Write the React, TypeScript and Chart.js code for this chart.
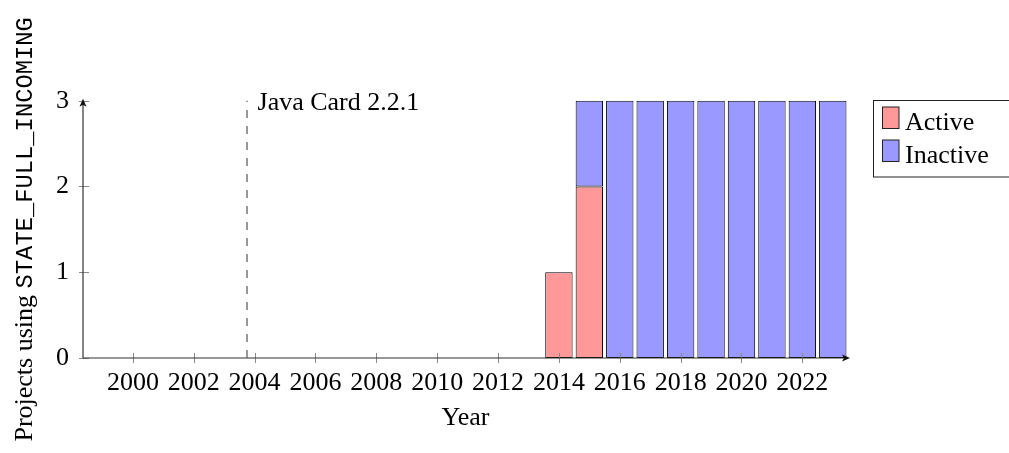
import React, { useEffect, useRef } from 'react';
import { Chart, registerables } from 'chart.js';

Chart.register(...registerables);

// ---- data ----
const years = [2014, 2015, 2016, 2017, 2018, 2019, 2020, 2021, 2022, 2023];
const activeCounts = [1, 2, 0, 0, 0, 0, 0, 0, 0, 0];
const inactiveCounts = [0, 1, 3, 3, 3, 3, 3, 3, 3, 3];
const seriesLabels = ['Active', 'Inactive'];
const xTickYears = [2000, 2002, 2004, 2006, 2008, 2010, 2012, 2014, 2016, 2018, 2020, 2022];
const yTickValues = [0, 1, 2, 3];
const xRange = [1998.36, 2023.5];
const yRange = [0, 3];
const markerYear = 2003.75;
const markerLabel = 'Java Card 2.2.1';
const xTitle = 'Year';
const yTitlePlain = 'Projects using ';
const yTitleMono = 'STATE_FULL_INCOMING';

// ---- styles ----
const SERIF = '"Liberation Serif", "Times New Roman", serif';
const MONO = '"Liberation Mono", "DejaVu Sans Mono", monospace';
const FONT_SIZE = 26;
const COLORS = ['#ff9999', '#9999ff'];

const overlayPlugin = {
  id: 'pgfOverlay',
  afterDatasetsDraw(chart: any) {
    const { ctx, chartArea, scales } = chart;
    const xs = scales.x;
    const ys = scales.y;
    const left = chartArea.left;
    const right = chartArea.right;
    const top = chartArea.top;
    const bottom = chartArea.bottom;
    ctx.save();

    // tick marks (crossing axes)
    ctx.strokeStyle = '#8a8a8a';
    ctx.lineWidth = 1;
    ctx.beginPath();
    xs.ticks.forEach((t: any) => {
      const px = Math.round(xs.getPixelForValue(t.value)) + 0.5;
      ctx.moveTo(px, bottom - 5);
      ctx.lineTo(px, bottom + 5);
    });
    ys.ticks.forEach((t: any) => {
      const py = Math.round(ys.getPixelForValue(t.value)) + 0.5;
      ctx.moveTo(left - 4, py);
      ctx.lineTo(left + 6, py);
    });
    ctx.stroke();

    // axis lines
    ctx.strokeStyle = '#333';
    ctx.lineWidth = 1.2;
    ctx.beginPath();
    ctx.moveTo(left, bottom);
    ctx.lineTo(right, bottom);
    ctx.moveTo(left, bottom);
    ctx.lineTo(left, top);
    ctx.stroke();
    // arrow heads
    ctx.fillStyle = '#111';
    ctx.beginPath();
    ctx.moveTo(right + 2, bottom);
    ctx.lineTo(right - 6, bottom - 3.5);
    ctx.lineTo(right - 4, bottom);
    ctx.lineTo(right - 6, bottom + 3.5);
    ctx.closePath();
    ctx.fill();
    ctx.beginPath();
    ctx.moveTo(left, top - 2);
    ctx.lineTo(left - 3.5, top + 6);
    ctx.lineTo(left, top + 4);
    ctx.lineTo(left + 3.5, top + 6);
    ctx.closePath();
    ctx.fill();

    // marker dashed line
    const mx = xs.getPixelForValue(markerYear);
    ctx.strokeStyle = '#555';
    ctx.lineWidth = 1.2;
    ctx.setLineDash([8, 8]);
    ctx.beginPath();
    ctx.moveTo(mx, ys.getPixelForValue(yRange[0]));
    ctx.lineTo(mx, ys.getPixelForValue(yRange[1]));
    ctx.stroke();
    ctx.setLineDash([]);
    ctx.fillStyle = '#000';
    ctx.font = `${FONT_SIZE}px ${SERIF}`;
    ctx.textAlign = 'left';
    ctx.textBaseline = 'alphabetic';
    ctx.fillText(markerLabel, mx + 10.5, ys.getPixelForValue(yRange[1]) + 9.5);

    // legend
    ctx.strokeStyle = '#222';
    ctx.lineWidth = 1;
    ctx.strokeRect(873.5, 100.5, 200, 76.5);
    chart.data.datasets.forEach((ds: any, i: number) => {
      const sy = 107 + i * 33;
      ctx.fillStyle = ds.backgroundColor;
      ctx.fillRect(882.5, sy, 16.5, 21.5);
      ctx.strokeStyle = '#222';
      ctx.strokeRect(882.5, sy, 16.5, 21.5);
      ctx.fillStyle = '#000';
      ctx.font = `${FONT_SIZE}px ${SERIF}`;
      ctx.fillText(ds.label, 905, sy + 23);
    });

    // y title with mixed fonts
    ctx.save();
    const cy = (top + bottom) / 2;
    ctx.translate(32, cy);
    ctx.rotate(-Math.PI / 2);
    const serifFont = `${FONT_SIZE}px ${SERIF}`;
    const monoFont = `23.8px ${MONO}`;
    ctx.font = serifFont;
    const w1 = ctx.measureText(yTitlePlain).width;
    ctx.font = monoFont;
    const w2 = ctx.measureText(yTitleMono).width;
    const start = -(w1 + w2) / 2;
    ctx.fillStyle = '#000';
    ctx.textAlign = 'left';
    ctx.textBaseline = 'alphabetic';
    ctx.font = serifFont;
    ctx.fillText(yTitlePlain, start, 0);
    ctx.font = monoFont;
    ctx.fillText(yTitleMono, start + w1, 0);
    ctx.restore();

    ctx.restore();
  },
};

export default function App() {
  const canvasRef = useRef<HTMLCanvasElement | null>(null);

  useEffect(() => {
    const canvas = canvasRef.current;
    if (!canvas) return;
    const font = { family: SERIF, size: FONT_SIZE, lineHeight: 1.2 };
    const chart = new Chart(canvas, {
      type: 'bar',
      data: {
        datasets: [
          {
            label: seriesLabels[0],
            data: years.map((x, i) => ({ x, y: activeCounts[i] })),
            backgroundColor: COLORS[0],
            borderColor: '#000',
            borderWidth: 1,
            borderSkipped: false,
            categoryPercentage: 1,
            barPercentage: 0.9,
          },
          {
            label: seriesLabels[1],
            data: years.map((x, i) => ({ x, y: inactiveCounts[i] })),
            backgroundColor: COLORS[1],
            borderColor: '#000',
            borderWidth: 1,
            borderSkipped: false,
            categoryPercentage: 1,
            barPercentage: 0.9,
          },
        ] as any,
      },
      options: {
        responsive: false,
        animation: false,
        layout: { padding: { top: 100.7, right: 161, left: 0, bottom: 0 } },
        plugins: { legend: { display: false }, tooltip: { enabled: false } },
        scales: {
          x: {
            type: 'linear',
            stacked: true,
            offset: false,
            min: xRange[0],
            max: xRange[1],
            afterBuildTicks: (s: any) => {
              s.ticks = xTickYears.map((v) => ({ value: v }));
            },
            afterFit: (s: any) => {
              s.height = 95;
            },
            grid: { display: false, drawTicks: false, tickLength: 0 },
            border: { display: false },
            ticks: {
              autoSkip: false,
              maxRotation: 0,
              minRotation: 0,
              padding: 10,
              color: '#000',
              font,
              callback: (v: any) => String(v),
            },
            title: {
              display: true,
              text: xTitle,
              color: '#000',
              font,
              padding: { top: 0, bottom: 19 },
            },
          },
          y: {
            stacked: true,
            min: yRange[0],
            max: yRange[1],
            afterBuildTicks: (s: any) => {
              s.ticks = yTickValues.map((v) => ({ value: v }));
            },
            afterFit: (s: any) => {
              s.width = 83;
            },
            grid: { display: false, drawTicks: false, tickLength: 0 },
            border: { display: false },
            ticks: {
              padding: 14,
              color: '#000',
              font,
              callback: (v: any) => String(v),
            },
          },
        },
      } as any,
      plugins: [overlayPlugin],
    });
    return () => chart.destroy();
  }, []);

  return (
    <div style={{ position: 'absolute', left: 0, top: 0, width: 1009, height: 453, background: '#fff' }}>
      <canvas ref={canvasRef} width={1009} height={453} style={{ display: 'block', width: 1009, height: 453 }} />
    </div>
  );
}
